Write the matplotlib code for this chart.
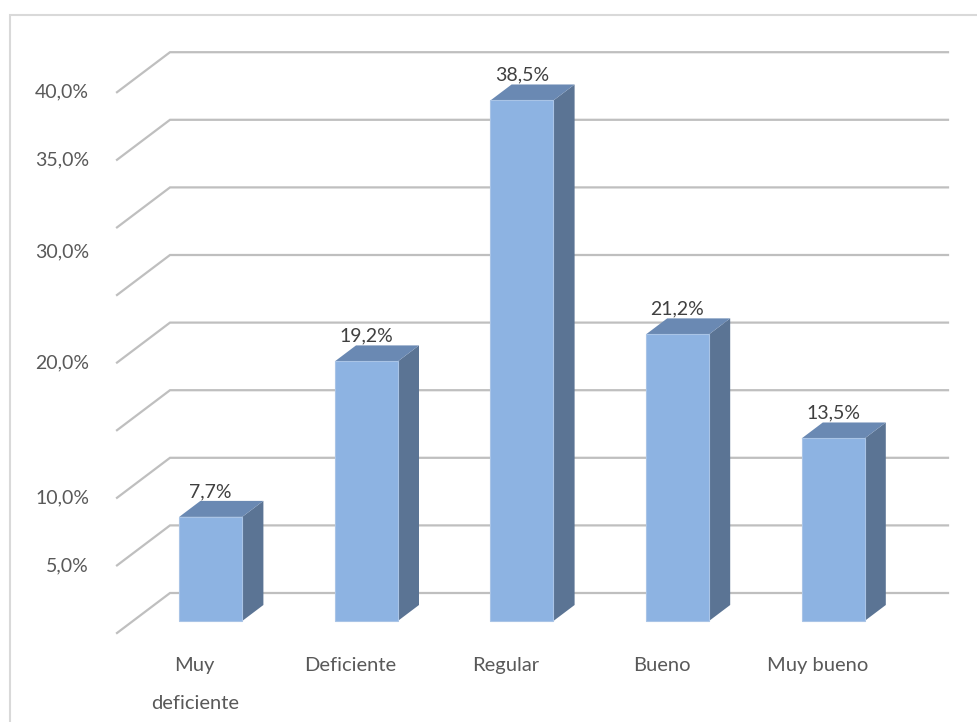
import matplotlib.pyplot as plt
from matplotlib.patches import Polygon, Rectangle

categories = ['Muy\ndeficiente', 'Deficiente', 'Regular', 'Bueno', 'Muy bueno']
values = [7.7, 19.2, 38.5, 21.2, 13.5]
value_labels = ['7,7%', '19,2%', '38,5%', '21,2%', '13,5%']
grid_values = [0, 5, 10, 15, 20, 25, 30, 35, 40]
ytick_labels = ['40,0%', '35,0%', '30,0%', '20,0%', '10,0%', '5,0%']
ytick_pos = [40, 35, 28.2, 20, 10, 5]

plt.rcParams['font.family'] = ['Lato', 'DejaVu Sans']

W, H = 977, 722
fig = plt.figure(figsize=(W / 100, H / 100), dpi=100)
ax = fig.add_axes([0, 0, 1, 1])
ax.set_axis_off()

# pixel scale of one category and one percent on the front floor edge
ux, uy = 155.6, 13.52
x0px, y0px = 117, 633
ax.set_xlim(-x0px / ux, (W - x0px) / ux)
ax.set_ylim((y0px - H) / uy, y0px / uy)

# depth vector (front floor edge -> back wall)
DX, DY = 53 / ux, 40 / uy
n = len(categories)

grid_col = '#bfbfbf'
for g in grid_values:
    ax.plot([0, DX, n + DX], [g, g + DY, g + DY], color=grid_col, lw=1.6,
            solid_joinstyle='miter', zorder=1)

# 3D-looking columns
front_col = '#8db3e2'
top_col = '#6a89b3'
side_col = '#5b7494'
w = 63 / ux
t0, td = 0.3, 0.4
for i, v in enumerate(values):
    x0 = i + 0.5 - w / 2 + t0 * DX
    yb = t0 * DY
    ddx, ddy = td * DX, td * DY
    side = Polygon([(x0 + w, yb), (x0 + w + ddx, yb + ddy),
                    (x0 + w + ddx, yb + v + ddy), (x0 + w, yb + v)],
                   closed=True, fc=side_col, ec='none', zorder=3)
    top = Polygon([(x0, yb + v), (x0 + w, yb + v),
                   (x0 + w + ddx, yb + v + ddy), (x0 + ddx, yb + v + ddy)],
                  closed=True, fc=top_col, ec='none', zorder=3)
    front = Rectangle((x0, yb), w, v, fc=front_col, ec='#a9c4e6', lw=0.8, zorder=4)
    for p in (side, top, front):
        ax.add_patch(p)
    ax.text(x0 + w / 2, yb + v + ddy + 0.05, value_labels[i], ha='center', va='bottom',
            fontsize=14, color='#404040', zorder=5)

# axis labels
for lab, pos in zip(ytick_labels, ytick_pos):
    ax.text(-0.18, pos, lab, ha='right', va='center', fontsize=14, color='#595959')

for i, cat in enumerate(categories):
    ax.text(i + 0.5, -1.8, cat, ha='center', va='top', fontsize=14.5,
            color='#595959', linespacing=2.45)

# chart area border
fig.add_artist(Rectangle((10 / W, -0.05), 1.05, 1.05 - 15 / H,
                         transform=fig.transFigure, fill=False,
                         ec='#d9d9d9', lw=1.5))

fig.savefig('out.png', dpi=100)
